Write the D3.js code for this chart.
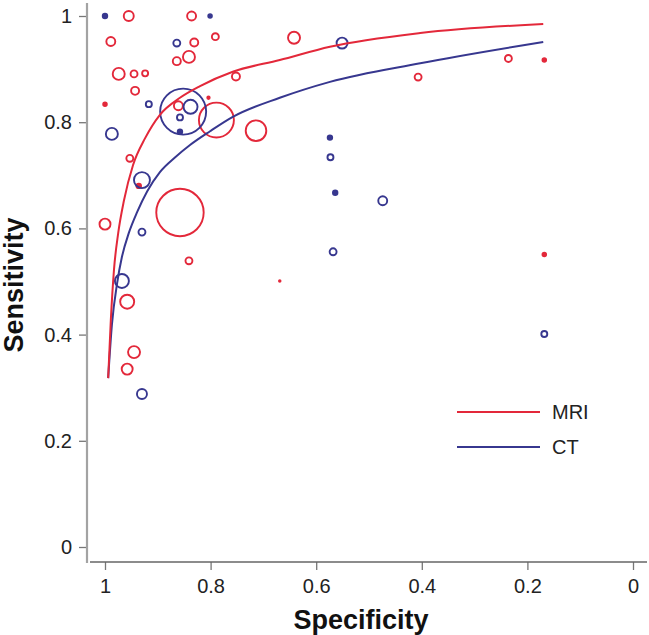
<!DOCTYPE html>
<html>
<head>
<meta charset="utf-8">
<script src="https://cdn.jsdelivr.net/npm/d3@7"></script>
<style>
  body { margin: 0; background: #fff; }
  svg { display: block; font-family: "Liberation Sans", Arial, sans-serif; }
</style>
</head>
<body>
<svg id="chart" width="649" height="635"></svg>
<script>
// study points: specificity, sensitivity, weight (bubble area)
const mriSpec = [0.955, 0.836, 0.791, 0.989, 0.831, 0.841, 0.864, 0.974, 0.945, 0.924, 0.943, 1.000, 0.804, 0.861, 0.789, 0.714, 0.752, 0.642, 0.953, 0.936, 0.858, 1.000, 0.841, 0.958, 0.945, 0.958, 0.407, 0.236, 0.168, 0.168, 0.669]
const mriSens = [1.000, 1.000, 0.961, 0.952, 0.950, 0.923, 0.915, 0.891, 0.891, 0.892, 0.859, 0.834, 0.846, 0.831, 0.804, 0.784, 0.886, 0.959, 0.732, 0.680, 0.630, 0.608, 0.539, 0.462, 0.367, 0.335, 0.885, 0.920, 0.917, 0.551, 0.501]
const mriWeight = [25, 20, 12, 20, 16, 36, 16, 36, 12, 9, 16, 4, 2, 20, 306, 106, 16, 36, 12, 6, 562, 30, 12, 49, 36, 30, 12, 12, 4, 4, 1]

const ctSpec = [1.000, 0.801, 0.864, 0.917, 0.852, 0.838, 0.858, 0.858, 0.987, 0.930, 0.930, 0.968, 0.930, 0.551, 0.574, 0.573, 0.564, 0.474, 0.568, 0.168]
const ctSens = [1.000, 1.000, 0.949, 0.834, 0.820, 0.829, 0.809, 0.782, 0.778, 0.691, 0.593, 0.501, 0.288, 0.949, 0.771, 0.734, 0.667, 0.652, 0.556, 0.401]
const ctWeight = [6, 4, 12, 9, 529, 49, 9, 6, 36, 64, 12, 49, 25, 30, 6, 9, 6, 20, 12, 9]

// SROC curves
const mriCurveSpec = [0.994, 0.989, 0.983, 0.975, 0.964, 0.947, 0.924, 0.896, 0.858, 0.820, 0.758, 0.669, 0.574, 0.403, 0.170]
const mriCurveSens = [0.318, 0.427, 0.522, 0.591, 0.653, 0.719, 0.770, 0.814, 0.846, 0.868, 0.895, 0.917, 0.942, 0.968, 0.985]
const ctCurveSpec = [0.994, 0.987, 0.977, 0.968, 0.955, 0.939, 0.920, 0.896, 0.867, 0.839, 0.801, 0.758, 0.669, 0.574, 0.403, 0.170]
const ctCurveSens = [0.318, 0.418, 0.497, 0.546, 0.591, 0.631, 0.670, 0.706, 0.734, 0.757, 0.783, 0.810, 0.846, 0.876, 0.911, 0.951]

const tickVals = [0, 0.2, 0.4, 0.6, 0.8, 1]
const seriesNames = ["MRI", "CT"]
const red = "#e3283a", blue = "#37378f"

const svg = d3.select("#chart")
const x = d3.scaleLinear().domain([1, 0]).range([105, 633])
const y = d3.scaleLinear().domain([0, 1]).range([547, 16])
const r = d3.scaleSqrt().domain([0, 1]).range([0, 1])

// axes
const yAxis = svg.append("g").attr("transform", "translate(87,0)")
  .call(d3.axisLeft(y).tickValues(tickVals).tickFormat(String).tickSize(8).tickPadding(7))
yAxis.select(".domain").remove()
yAxis.selectAll("line").attr("stroke", "#777").attr("stroke-width", 1.3)
yAxis.selectAll("text").attr("font-size", 20).attr("fill", "#222")
svg.append("line").attr("x1", 87).attr("x2", 87).attr("y1", 3).attr("y2", 563)
  .attr("stroke", "#a3a3a3").attr("stroke-width", 2.2)

const xAxis = svg.append("g").attr("transform", "translate(0,562)")
  .call(d3.axisBottom(x).tickValues(tickVals).tickFormat(String).tickSize(8).tickPadding(9))
xAxis.select(".domain").remove()
xAxis.selectAll("line").attr("stroke", "#777").attr("stroke-width", 1.3)
xAxis.selectAll("text").attr("font-size", 20).attr("fill", "#222")
svg.append("line").attr("x1", 90).attr("x2", 647).attr("y1", 562).attr("y2", 562)
  .attr("stroke", "#666").attr("stroke-width", 1.6)

svg.append("text").attr("x", 361).attr("y", 629).attr("text-anchor", "middle")
  .attr("font-size", 27).attr("font-weight", "bold").attr("fill", "#111").text("Specificity")
svg.append("text").attr("transform", "translate(23,285) rotate(-90)").attr("text-anchor", "middle")
  .attr("font-size", 27).attr("font-weight", "bold").attr("fill", "#111").text("Sensitivity")

// bubbles
function bubbles(spec, sens, w, col) {
  const pts = spec.map((s, i) => ({ s: s, t: sens[i], w: w[i] }))
  svg.append("g").selectAll("circle").data(pts).enter().append("circle")
    .attr("cx", d => x(d.s))
    .attr("cy", d => y(d.t))
    .attr("r", d => r(d.w))
    .attr("fill", d => r(d.w) < 2.6 ? col : "none")
    .attr("stroke", col)
    .attr("stroke-width", d => r(d.w) < 2.6 ? 1.5 : 1.9)
}
bubbles(mriSpec, mriSens, mriWeight, red)
bubbles(ctSpec, ctSens, ctWeight, blue)

// curves
const line = d3.line().x(d => x(d[0])).y(d => y(d[1])).curve(d3.curveMonotoneX)
svg.append("path").datum(ctCurveSpec.map((s, i) => [s, ctCurveSens[i]]))
  .attr("d", line).attr("fill", "none").attr("stroke", blue).attr("stroke-width", 2)
svg.append("path").datum(mriCurveSpec.map((s, i) => [s, mriCurveSens[i]]))
  .attr("d", line).attr("fill", "none").attr("stroke", red).attr("stroke-width", 2)

// legend
const leg = svg.append("g")
seriesNames.forEach((name, i) => {
  const yy = 412 + i * 35
  leg.append("line").attr("x1", 457).attr("x2", 540).attr("y1", yy).attr("y2", yy)
    .attr("stroke", i === 0 ? red : blue).attr("stroke-width", 2)
  leg.append("text").attr("x", 552).attr("y", yy + 7).attr("font-size", 20)
    .attr("fill", "#222").text(name)
})
</script>
</body>
</html>
